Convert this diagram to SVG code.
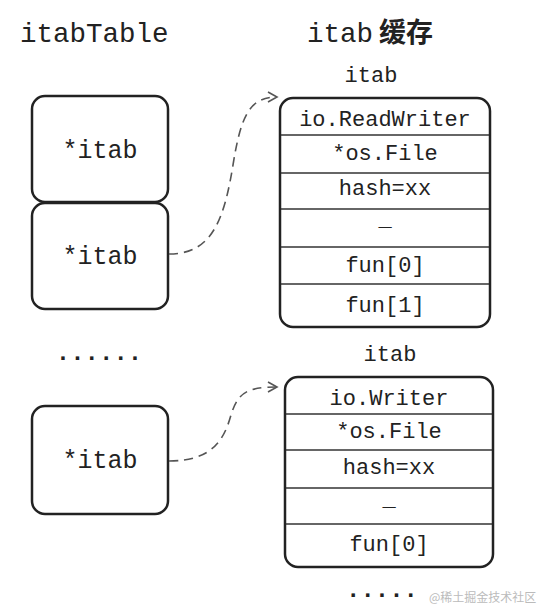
<svg xmlns="http://www.w3.org/2000/svg" width="541" height="606" viewBox="0 0 541 606">
<defs>
<style>
.mono{font-family:"Liberation Mono","DejaVu Sans Mono",monospace;fill:#222}
.box{fill:#fff;stroke:#222;stroke-width:2.5}
.div{stroke:#333;stroke-width:1.5}
.cell{font-size:22px;text-anchor:middle}
.ptr{font-size:25px;text-anchor:middle}
.conn{fill:none;stroke:#555;stroke-width:1.6;stroke-dasharray:9,6}
</style>
<marker id="arr" markerWidth="12" markerHeight="12" refX="10" refY="6" orient="auto" markerUnits="userSpaceOnUse">
<path d="M1,1 L10,6 L1,11" fill="none" stroke="#555" stroke-width="1.6"/>
</marker>
</defs>
<rect width="541" height="606" fill="#fff"/>
<g id="titles">
<text class="mono" x="20" y="42" font-size="27.5">itabTable</text>
<text class="mono" x="307" y="42" font-size="27.5">itab</text>
<text x="379" y="42" font-size="27" font-weight="bold" fill="#222" font-family="'Noto Sans CJK SC',sans-serif">缓存</text>
</g>
<g id="itabTable">
<g id="ptr1"><rect class="box" x="32" y="96" width="136" height="106" rx="13"/><text class="mono ptr" x="100" y="158">*itab</text></g>
<g id="ptr2"><rect class="box" x="32" y="203" width="136" height="106" rx="13"/><text class="mono ptr" x="100" y="264">*itab</text></g>
<g id="dots1"><text class="mono" x="99" y="360" font-size="24" text-anchor="middle" font-weight="bold">......</text></g>
<g id="ptr3"><rect class="box" x="32" y="406" width="136" height="108" rx="13"/><text class="mono ptr" x="100" y="468">*itab</text></g>
</g>
<g id="itab1">
<text class="mono cell" x="371" y="82">itab</text>
<rect class="box" x="280" y="98" width="210" height="229" rx="13"/>
<line class="div" x1="281" y1="135" x2="489" y2="135"/>
<line class="div" x1="281" y1="173" x2="489" y2="173"/>
<line class="div" x1="281" y1="209" x2="489" y2="209"/>
<line class="div" x1="281" y1="247" x2="489" y2="247"/>
<line class="div" x1="281" y1="284" x2="489" y2="284"/>
<text class="mono cell" x="385" y="126">io.ReadWriter</text>
<text class="mono cell" x="385" y="160">*os.File</text>
<text class="mono cell" x="385" y="195">hash=xx</text>
<text class="mono cell" x="385" y="226">_</text>
<text class="mono cell" x="385" y="272">fun[0]</text>
<text class="mono cell" x="385" y="312">fun[1]</text>
</g>
<g id="itab2">
<text class="mono cell" x="390" y="361">itab</text>
<rect class="box" x="285" y="377" width="208" height="190" rx="13"/>
<line class="div" x1="286" y1="414" x2="492" y2="414"/>
<line class="div" x1="286" y1="450" x2="492" y2="450"/>
<line class="div" x1="286" y1="488" x2="492" y2="488"/>
<line class="div" x1="286" y1="524" x2="492" y2="524"/>
<text class="mono cell" x="389" y="405">io.Writer</text>
<text class="mono cell" x="389" y="438">*os.File</text>
<text class="mono cell" x="389" y="474">hash=xx</text>
<text class="mono cell" x="389" y="506">_</text>
<text class="mono cell" x="389" y="551">fun[0]</text>
</g>
<g id="dots2"><text class="mono" x="382" y="597" font-size="24" text-anchor="middle" font-weight="bold">.....</text></g>
<g id="connectors">
<path class="conn" d="M169,254 C212,254 224,220 233,165 C241,115 250,97 277,97" marker-end="url(#arr)"/>
<path class="conn" d="M169,461 C212,461 224,440 231,415 C238,392 248,387 277,387" marker-end="url(#arr)"/>
</g>
<g id="watermark"><text x="429" y="602" font-size="12" fill="#bbb" font-family="'Noto Sans CJK SC',sans-serif">@稀土掘金技术社区</text></g>
</svg>
